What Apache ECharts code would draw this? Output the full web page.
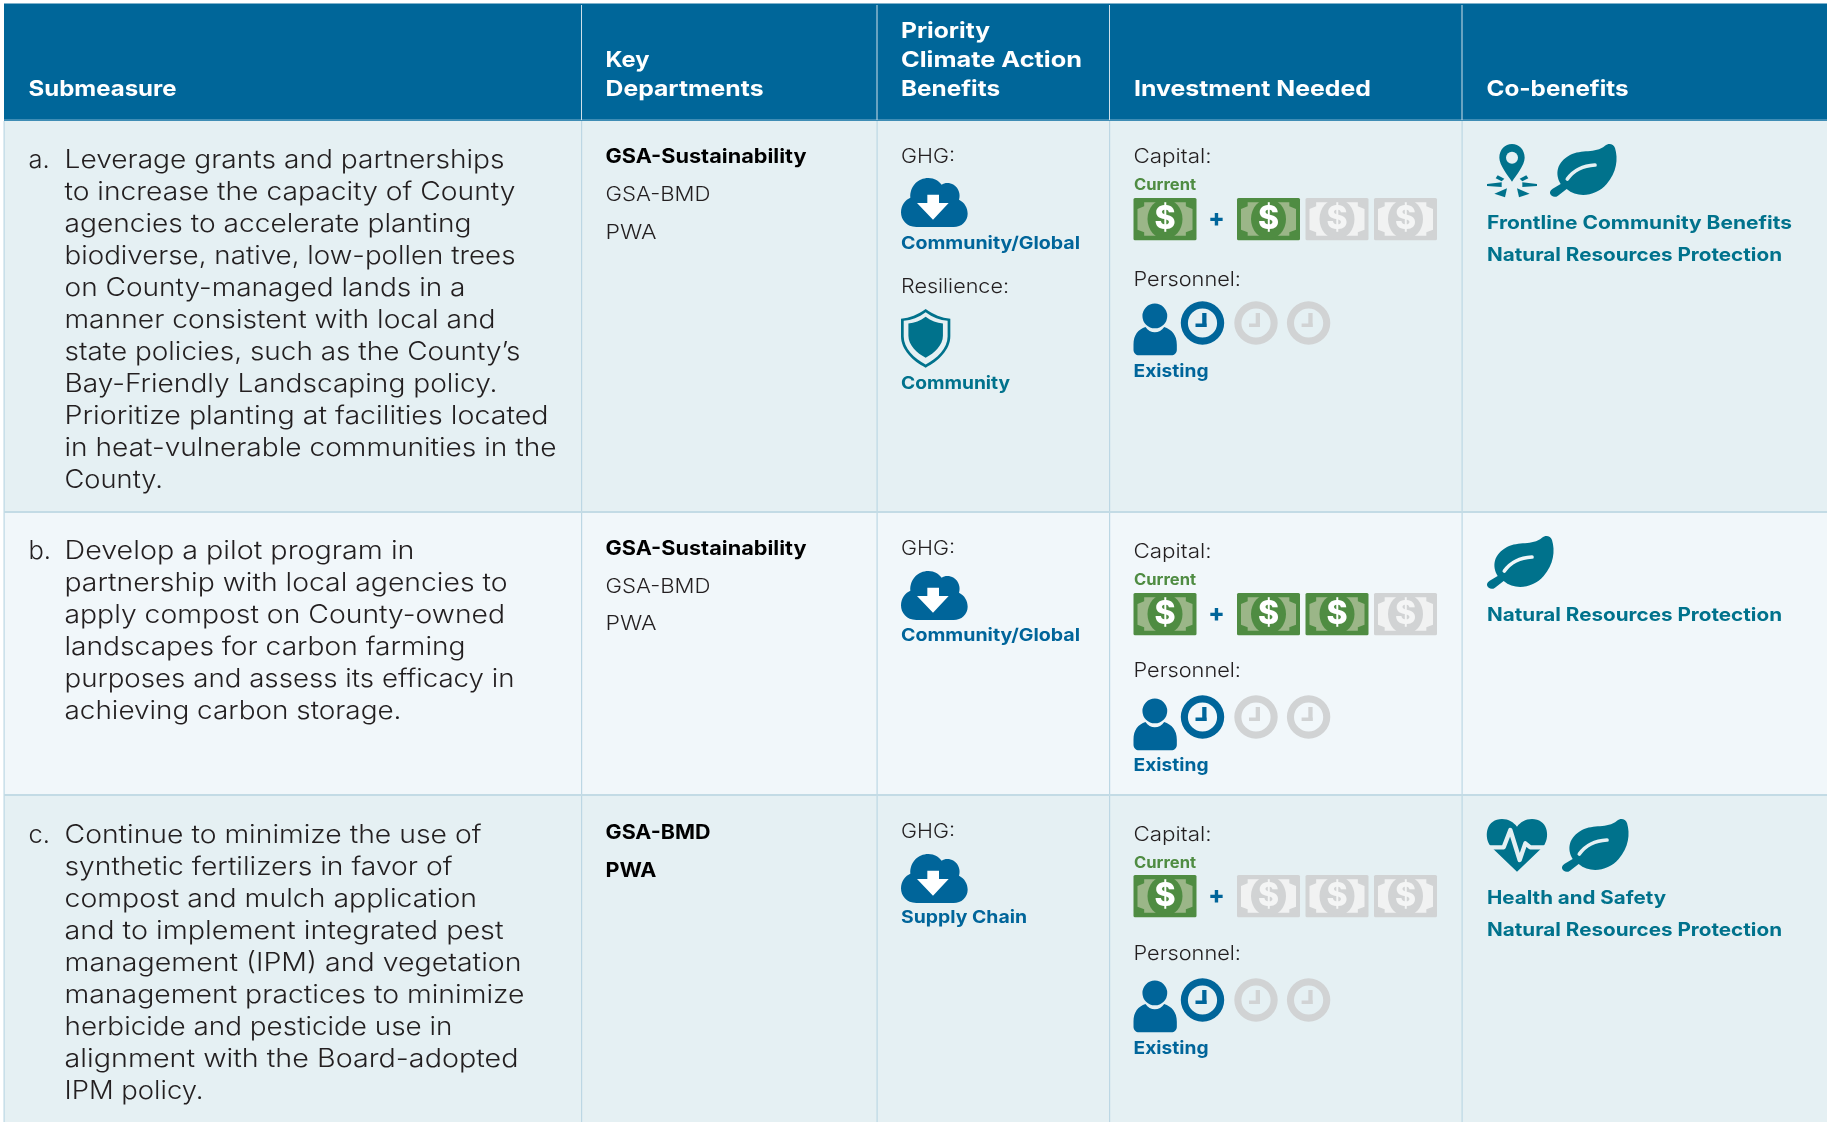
<!DOCTYPE html>
<html><head><meta charset="utf-8">
<style>html,body{margin:0;padding:0;background:#fff}#c{width:1827px;height:1122px}</style>
<script src="https://cdn.jsdelivr.net/npm/echarts@6/dist/echarts.min.js"></script>
</head><body><div id="c"></div>
<script>
// ---------- content ----------
var columnHeaders = [['Submeasure'], ['Key', 'Departments'], ['Priority', 'Climate Action', 'Benefits'], ['Investment Needed'], ['Co-benefits']];
var rowLetters = ['a.', 'b.', 'c.'];
var submeasureLines = [
  ['Leverage grants and partnerships','to increase the capacity of County','agencies to accelerate planting','biodiverse, native, low-pollen trees','on County-managed lands in a','manner consistent with local and','state policies, such as the County\u2019s','Bay-Friendly Landscaping policy.','Prioritize planting at facilities located','in heat-vulnerable communities in the','County.'],
  ['Develop a pilot program in','partnership with local agencies to','apply compost on County-owned','landscapes for carbon farming','purposes and assess its efficacy in','achieving carbon storage.'],
  ['Continue to minimize the use of','synthetic fertilizers in favor of','compost and mulch application','and to implement integrated pest','management (IPM) and vegetation','management practices to minimize','herbicide and pesticide use in','alignment with the Board-adopted','IPM policy.']
];
var departments = [['GSA-Sustainability','GSA-BMD','PWA'], ['GSA-Sustainability','GSA-BMD','PWA'], ['GSA-BMD','PWA']];
var leadDepartments = [1, 1, 2];
var ghgScope = ['Community/Global', 'Community/Global', 'Supply Chain'];
var resilienceScope = ['Community', null, null];
var capitalFilled = [1, 2, 0];
var capitalSlots = 3;
var personnelFilled = [1, 1, 1];
var personnelSlots = 3;
var capitalNote = 'Current';
var personnelNote = 'Existing';
var coBenefits = [['Frontline Community Benefits','Natural Resources Protection'], ['Natural Resources Protection'], ['Health and Safety','Natural Resources Protection']];
var coBenefitIcons = [['pin','leaf'], ['leaf'], ['heart','leaf']];

// ---------- layout ----------
var colX = [4, 581.5, 877, 1109.5, 1462, 1827];
var rowY = [120, 512, 795, 1122];
var rowFill = ['#e5f0f3', '#f1f7fa', '#e5f0f3'];
var textY0 = [167, 558.5, 842];
var lineEnds = [
  [505,516,472,516,466,496,521,498,549,557,163.5],
  [415,508,505.6,466,515,402],
  [482,453,477.5,504,522,525,453,519,204]
];
var deptY = [[163,201,239],[555,592.5,630],[839,876.5]];
var ghgY = [163, 555, 838];
var cloudY = [178, 571, 854];
var scopeY = [248.5, 641, 923];
var capY = [163, 558, 841];
var currentY = [190, 585, 868];
var billY = [198, 593, 875];
var persLabelY = [286, 677, 960];
var personY = [304, 699, 981];
var clockY = [323, 717, 1000];
var existingY = [377, 771, 1054];
var iconY = [144, 536, 819];
var cobenY = [[229,261],[621],[904,936]];
var headerBaseline = 96;
var billX = [1237, 1305.5, 1374];
var clockX = [1202.5, 1256, 1308.6];
var textWidths = {
  'Submeasure':148, 'Key':44, 'Departments':158, 'Priority':89, 'Climate Action':181, 'Benefits':99, 'Investment Needed':237, 'Co-benefits':142,
  'Frontline Community Benefits':305, 'Natural Resources Protection':295, 'Health and Safety':179, 'Supply Chain':126, 'Community':109, 'Community/Global':179,
  'Resilience:':108, 'GHG:':54, 'Capital:':78, 'Personnel:':107.5, 'PWA':51, 'GSA-BMD':105, 'GSA-Sustainability':201, 'Current':62, 'Existing':75
};

var BLUE = '#00659a', TEAL = '#00728c', GREEN = '#4f8c42', GRAY = '#d1d3d4', INK = '#231f20';
var FAM = 'Inter, "Noto Sans", sans-serif';
var cv = document.createElement('canvas').getContext('2d');
function mk(weight, size, color) {
  return {font: weight + ' ' + size + 'px ' + FAM, size: size, color: color};
}
var S = {
  head: mk(700, 22, '#ffffff'),
  main: mk(300, 25.5, INK),
  deptB: mk(700, 20, '#000000'),
  dept: mk(300, 20, INK),
  label: mk(300, 20, INK),
  blue: mk(700, 17.5, BLUE),
  teal: mk(700, 17.5, TEAL),
  co: mk(700, 18.5, TEAL),
  cur: mk(700, 15.5, GREEN),
  exist: mk(700, 18, BLUE)
};
function T(str, x, base, st, w) {
  cv.font = st.font;
  var target = w || textWidths[str];
  var sx = target ? target / cv.measureText(str).width : 1;
  return {type: 'text', x: x, y: base - st.size * 0.28, scaleX: sx, silent: true,
    style: {text: str, fill: st.color, font: st.font, align: 'left', textAlign: 'left', verticalAlign: 'middle', textVerticalAlign: 'middle'}};
}
function R(x, y, w, h, fill, r) {
  return {type: 'rect', shape: {x: x, y: y, width: w, height: h, r: r || 0}, style: {fill: fill}, silent: true};
}
function P(d, ox, oy, s, style, sy) {
  return {type: 'path', shape: {pathData: d}, x: ox, y: oy, scaleX: s, scaleY: sy || s, style: style, silent: true};
}
var D_CLOUD = 'M110 262C80 262 64 240 64 218C64 195 78 180 92 174C90 140 115 115 146 115C165 115 178 125 186 135C195 128 210 128 222 135C238 145 243 165 238 180C255 188 264 205 264 222C264 245 245 262 222 262Z';
var D_ARROW = 'M143 165L178 165L178 190L207 190L160 240L112 190L143 190Z';
var D_SHIELD = 'M74 0C51 17 26 27 0 29L0 82C0 122 36 157 74 176C112 157 148 122 148 82L148 29C122 27 97 17 74 0Z';
var D_LEAF = 'M32 120C14 90 20 55 60 33C95 14 135 30 165 5C175 -3 190 -2 195 12C205 45 200 85 170 120C140 155 85 165 50 135L24 155C15 162 3 158 0 148C-1 142 3 138 8 134Z';
var D_VEIN = 'M52 105C70 80 95 65 135 63';
var D_PIN = 'M93 27C72 27 55 44 55 68C55 90 80 120 93 140C106 120 131 90 131 68C131 44 114 27 93 27Z';
var D_RAYS = ['M70 131L50 121L44 130L62 139Z','M18 147L62 142L62 156L18 153Z','M40 176L78 160L72 187Z','M146 176L108 160L114 187Z','M168 147L124 142L124 156L168 153Z','M116 131L136 121L142 130L124 139Z'];
var D_HEART = 'M110 185L42 120L28 105C10 75 20 27 65 27C85 27 100 37 110 50C120 37 135 27 155 27C200 27 210 75 192 105L178 120Z';
var D_EKG = 'M14 112L70 112L90 60L118 150L135 100L150 112L206 112';
var D_BODY = 'M26 165L26 150C26 120 40 105 62 97C75 118 105 118 118 97C140 105 156 120 156 150L156 165C156 175 148 182 140 182L42 182C34 182 26 175 26 165Z';
var D_PALE = 'M58 38L183 38L183 50L203 58L203 120L183 128L183 138L58 138L58 128L38 120L38 58L58 50Z';

function bill(x, y, on) {
  var main = on ? GREEN : GRAY, pale = on ? '#9bb688' : '#f1f2f2', $c = on ? '#ffffff' : '#f4f5f5';
  var ox = x - 26 / 3, oy = y - 25 / 3;
  return [
    R(x, y, 63, 42.3, main, 1.5),
    P(D_PALE, ox, oy, 1 / 3, {fill: pale}),
    {type: 'ellipse', shape: {cx: x + 31.5, cy: y + 21, rx: 17.5, ry: 20}, style: {fill: main}, silent: true},
    {type: 'text', x: x + 31.5, y: y + 21.5, silent: true, style: {text: '$', fill: $c, font: '800 32px ' + FAM, align: 'center', textAlign: 'center', verticalAlign: 'middle', textVerticalAlign: 'middle'}}
  ];
}
function clock(cx, cy, on) {
  var c = on ? BLUE : GRAY;
  return [
    {type: 'ring', shape: {cx: cx, cy: cy, r: 21.7, r0: 14.6}, style: {fill: c}, silent: true},
    R(cx - 0.3, cy - 10, 4.3, 14, c),
    R(cx - 7, cy + 0.5, 11, 3.5, c)
  ];
}
function leaf(x, y, bg) {
  return [P(D_LEAF, x, y, 1 / 3, {fill: TEAL}),
    P(D_VEIN, x, y, 1 / 3, {fill: 'none', stroke: bg, lineWidth: 11, lineCap: 'round'})];
}
function pin(x, y, bg) {
  var ox = x - 18 / 3, oy = y - 27 / 3, ch = [P(D_PIN, ox, oy, 1 / 3, {fill: TEAL}),
    {type: 'circle', shape: {cx: ox + 31, cy: oy + 22.7, r: 6}, style: {fill: bg}, silent: true}];
  D_RAYS.forEach(function (d) { ch.push(P(d, ox, oy, 1 / 3, {fill: TEAL})); });
  return ch;
}
function heart(x, y, bg) {
  var ox = x - 20 / 3, oy = y - 27 / 3;
  return [P(D_HEART, ox, oy, 1 / 3, {fill: TEAL}),
    P(D_EKG, ox, oy, 1 / 3, {fill: 'none', stroke: bg, lineWidth: 13, lineJoin: 'round'})];
}
var ICONS = {pin: pin, leaf: leaf, heart: heart};
var ICON_W = {pin: 63, leaf: 0, heart: 75};

function renderRow(params) {
  var i = params.dataIndex, ch = [], bg = rowFill[i];
  ch.push(R(colX[0], rowY[i], 1827 - colX[0], rowY[i + 1] - rowY[i], bg));
  // submeasure
  ch.push(T(rowLetters[i], 28.5, textY0[i], S.main));
  submeasureLines[i].forEach(function (l, k) { ch.push(T(l, 64.5, textY0[i] + 32 * k, S.main, lineEnds[i][k] - 65)); });
  // departments
  departments[i].forEach(function (d, k) { ch.push(T(d, 605.5, deptY[i][k], k < leadDepartments[i] ? S.deptB : S.dept)); });
  // GHG
  ch.push(T('GHG:', 901, ghgY[i], S.label));
  var cy = cloudY[i] - 115 / 3, cx = 901 - 64 / 3;
  ch.push(P(D_CLOUD, cx, cy, 1 / 3, {fill: BLUE}), P(D_ARROW, cx, cy, 1 / 3, {fill: '#ffffff'}));
  ch.push(T(ghgScope[i], 901, scopeY[i], S.blue));
  if (resilienceScope[i]) {
    ch.push(T('Resilience:', 901, 293, S.label));
    ch.push(P(D_SHIELD, 901, 309, 1 / 3, {fill: TEAL}));
    ch.push(P(D_SHIELD, 901 + 74 / 3 * 0.11, 309 + 88 / 3 * 0.11, 0.89 / 3, {fill: bg}));
    ch.push(P(D_SHIELD, 901 + 74 / 3 * 0.3, 309 + 88 / 3 * 0.26, 0.7 / 3, {fill: TEAL}));
    ch.push(T(resilienceScope[i], 901, 389, S.teal));
  }
  // capital
  ch.push(T('Capital:', 1133.5, capY[i], S.label));
  ch.push(T(capitalNote, 1134, currentY[i], S.cur));
  ch = ch.concat(bill(1133.5, billY[i], true));
  ch.push({type: 'text', x: 1216.5, y: billY[i] + 21, silent: true, style: {text: '+', fill: BLUE, font: '800 24px ' + FAM, align: 'center', textAlign: 'center', verticalAlign: 'middle', textVerticalAlign: 'middle'}});
  for (var b = 0; b < capitalSlots; b++) ch = ch.concat(bill(billX[b], billY[i], b < capitalFilled[i]));
  // personnel
  ch.push(T('Personnel:', 1133.5, persLabelY[i], S.label));
  var px = 1133.5 - 26 / 3, py = personY[i] - 28 / 3;
  ch.push({type: 'circle', shape: {cx: px + 30, cy: py + 21.3, r: 12.4}, style: {fill: BLUE}, silent: true});
  ch.push(P(D_BODY, px, py, 1 / 3, {fill: BLUE}));
  for (var c = 0; c < personnelSlots; c++) ch = ch.concat(clock(clockX[c], clockY[i], c < personnelFilled[i]));
  ch.push(T(personnelNote, 1133.5, existingY[i], S.exist));
  // co-benefits
  var ix = 1487;
  coBenefitIcons[i].forEach(function (n) { ch = ch.concat(ICONS[n](ix, iconY[i], bg)); ix += ICON_W[n]; });
  coBenefits[i].forEach(function (t, k) { ch.push(T(t, 1487, cobenY[i][k], S.co)); });
  return {type: 'group', children: ch};
}
function renderFrame() {
  var ch = [R(4, 3.5, 1823, 116.5, '#006699'), R(4, 119, 1823, 2, '#3f8db5')];
  columnHeaders.forEach(function (lines, c) {
    var x = [28.5, 605.5, 901, 1134, 1486.5][c];
    lines.forEach(function (l, k) { ch.push(T(l, x, headerBaseline - 29 * (lines.length - 1 - k), S.head)); });
  });
  [581.5, 877, 1109.5, 1462].forEach(function (x) {
    ch.push(R(x - 0.5, 5, 1, 115, '#cfe0ea'));
    ch.push(R(x - 0.5, 121, 1.2, 1001, '#bcd7e4'));
  });
  ch.push(R(3.5, 121, 1.2, 1001, '#bcd7e4'));
  ch.push(R(4, 511, 1823, 2, '#c3dbe5'), R(4, 794, 1823, 2, '#c3dbe5'));
  return {type: 'group', children: ch};
}
var chart = echarts.init(document.getElementById('c'), null, {renderer: 'canvas', width: 1827, height: 1122});
chart.setOption({
  animation: false,
  backgroundColor: '#ffffff',
  series: [
    {type: 'custom', coordinateSystem: 'none', silent: true, z: 1, renderItem: renderRow, data: rowLetters.map(function (l, i) { return [i]; })},
    {type: 'custom', coordinateSystem: 'none', silent: true, z: 2, renderItem: renderFrame, data: [[0]]}
  ]
});
</script></body></html>
